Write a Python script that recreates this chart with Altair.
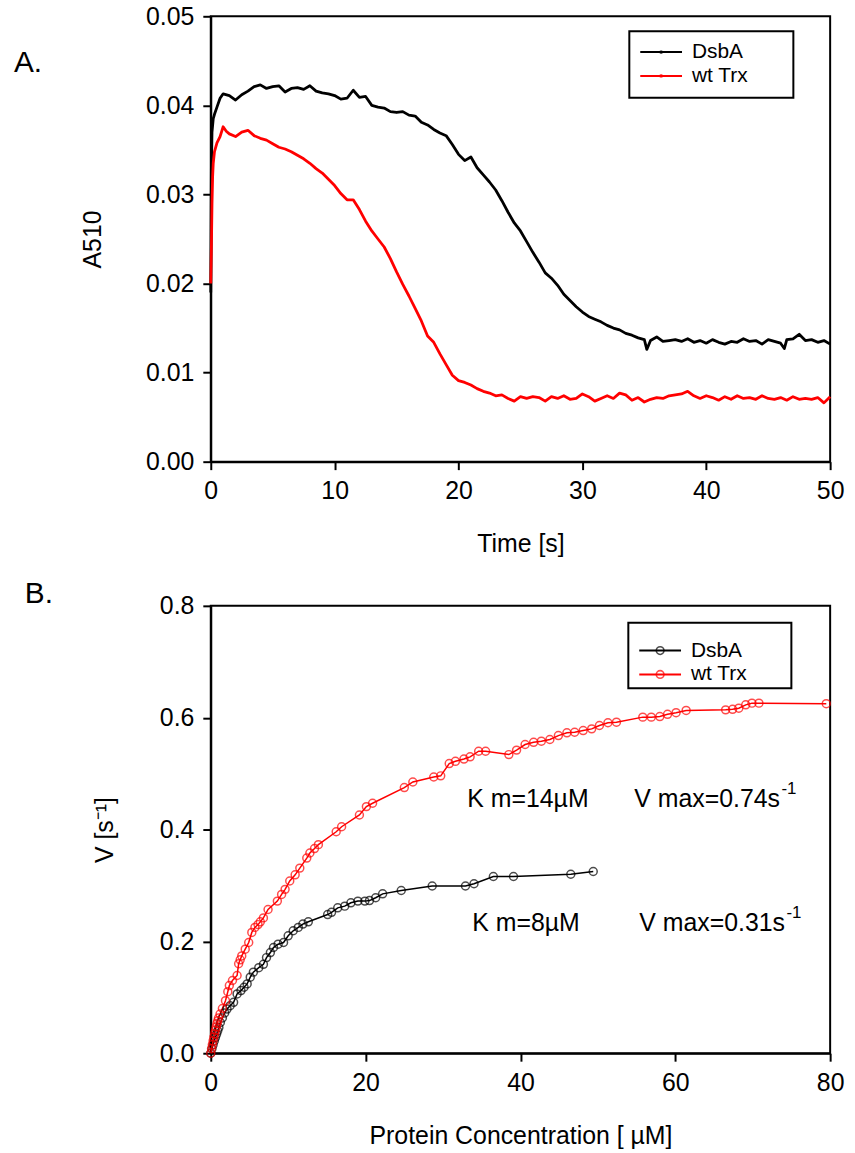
import altair as alt
import pandas as pd

FONT = "Liberation Sans"
FS = 25
LEG_FS = 21

# ---------------- Panel A data (A510 vs time) ----------------
time_dsba = [0, 0.05, 0.1, 0.2, 0.3, 0.5, 0.75, 1.0, 1.5, 2.0, 2.5, 3.0, 3.5, 4.0, 4.5, 5.0,
             5.5, 6.0, 6.5, 7.0, 7.5, 8.0, 8.5, 9.0, 9.5, 10.0, 10.5, 11.0, 11.5, 12.0, 12.5,
             13.0, 13.5, 14.0, 14.5, 15.0, 15.5, 16.0, 16.5, 17.0, 17.5, 18.0, 18.5, 19.0,
             19.5, 20.0, 20.5, 21.0, 21.5, 22.0, 22.5, 23.0, 23.5, 24.0, 24.5, 25.0, 25.5,
             26.0, 26.5, 27.0, 27.5, 28.0, 28.5, 29.0, 29.5, 30.0, 30.5, 31.0, 31.5, 32.0,
             32.5, 33.0, 33.5, 34.0, 34.5, 35.0, 35.2, 35.5, 36.0, 36.5, 37.0, 37.5, 38.0,
             38.5, 39.0, 39.5, 40.0, 40.5, 41.0, 41.5, 42.0, 42.5, 43.0, 43.5, 44.0, 44.5,
             45.0, 45.5, 46.0, 46.3, 46.5, 47.0, 47.5, 48.0, 48.5, 49.0, 49.5, 50.0]
a510_dsba = [0.0190, 0.0330, 0.0370, 0.0385, 0.0390, 0.0398, 0.0408, 0.0413, 0.0411, 0.0406,
             0.0412, 0.0416, 0.0421, 0.0423, 0.0419, 0.0421, 0.0422, 0.0415, 0.0419, 0.0420,
             0.0418, 0.0422, 0.0416, 0.0414, 0.0413, 0.0411, 0.0407, 0.0408, 0.0417, 0.0409,
             0.0410, 0.0400, 0.0398, 0.0397, 0.0393, 0.0392, 0.0393, 0.0389, 0.0388, 0.0381,
             0.0378, 0.0373, 0.0369, 0.0366, 0.0356, 0.0345, 0.0338, 0.0342, 0.0330, 0.0322,
             0.0314, 0.0305, 0.0293, 0.0280, 0.0268, 0.0259, 0.0247, 0.0235, 0.0224, 0.0212,
             0.0206, 0.0198, 0.0188, 0.0181, 0.0174, 0.0168, 0.0163, 0.0160, 0.0157, 0.0153,
             0.0150, 0.0148, 0.0144, 0.0142, 0.0139, 0.0137, 0.0126, 0.0136, 0.0140, 0.0135,
             0.0136, 0.0137, 0.0135, 0.0138, 0.0134, 0.0136, 0.0133, 0.0137, 0.0134, 0.0132,
             0.0135, 0.0134, 0.0138, 0.0135, 0.0136, 0.0132, 0.0137, 0.0135, 0.0133, 0.0127,
             0.0137, 0.0138, 0.0143, 0.0136, 0.0137, 0.0134, 0.0136, 0.0132]

time_trx = [0, 0.05, 0.1, 0.15, 0.2, 0.3, 0.5, 0.75, 1.0, 1.25, 1.5, 2.0, 2.5, 3.0, 3.5, 4.0,
            4.5, 5.0, 5.5, 6.0, 6.5, 7.0, 7.5, 8.0, 8.5, 9.0, 9.5, 10.0, 10.5, 11.0, 11.5,
            12.0, 12.5, 13.0, 13.5, 14.0, 14.5, 15.0, 15.5, 16.0, 16.5, 17.0, 17.5, 18.0,
            18.5, 19.0, 19.5, 20.0, 20.5, 21.0, 21.5, 22.0, 22.5, 23.0, 23.5, 24.0, 24.5,
            25.0, 25.5, 26.0, 26.5, 27.0, 27.5, 28.0, 28.5, 29.0, 29.5, 30.0, 30.5, 31.0,
            31.5, 32.0, 32.5, 33.0, 33.5, 34.0, 34.5, 35.0, 35.5, 36.0, 36.5, 37.0, 37.5,
            38.0, 38.5, 39.0, 39.5, 40.0, 40.5, 41.0, 41.5, 42.0, 42.5, 43.0, 43.5, 44.0,
            44.5, 45.0, 45.5, 46.0, 46.5, 47.0, 47.5, 48.0, 48.5, 49.0, 49.5, 50.0]
a510_trx = [0.0200, 0.0240, 0.0290, 0.0320, 0.0335, 0.0348, 0.0358, 0.0365, 0.0376, 0.0371,
            0.0368, 0.0365, 0.0370, 0.0372, 0.0366, 0.0363, 0.0361, 0.0357, 0.0353, 0.0351,
            0.0348, 0.0344, 0.0340, 0.0335, 0.0329, 0.0324, 0.0317, 0.0310, 0.0301, 0.0294,
            0.0294, 0.0283, 0.0270, 0.0259, 0.0250, 0.0241, 0.0228, 0.0213, 0.0199, 0.0186,
            0.0172, 0.0158, 0.0141, 0.0134, 0.0121, 0.0109, 0.0097, 0.0091, 0.0089, 0.0086,
            0.0082, 0.0079, 0.0077, 0.0074, 0.0075, 0.0071, 0.0068, 0.0073, 0.0071, 0.0073,
            0.0072, 0.0068, 0.0073, 0.0071, 0.0074, 0.0070, 0.0071, 0.0076, 0.0073, 0.0068,
            0.0071, 0.0074, 0.0071, 0.0077, 0.0075, 0.0069, 0.0072, 0.0067, 0.0070, 0.0072,
            0.0071, 0.0074, 0.0075, 0.0076, 0.0079, 0.0074, 0.0071, 0.0074, 0.0072, 0.0069,
            0.0073, 0.0070, 0.0074, 0.0071, 0.0072, 0.0070, 0.0074, 0.0071, 0.0070, 0.0072,
            0.0069, 0.0073, 0.0070, 0.0071, 0.0070, 0.0072, 0.0066, 0.0073]

# ---------------- Panel B data (V vs protein concentration) ----------------
conc_dsba = [0.0, 0.15, 0.3, 0.45, 0.6, 0.75, 0.9, 1.05, 1.24, 1.5, 1.8, 2.1, 2.5, 2.95, 3.4,
             3.9, 4.3, 4.7, 5.1, 5.5, 6.2, 6.8, 7.2, 7.7, 8.1, 8.7, 9.4, 10.0, 10.65, 11.3,
             11.9, 12.6, 15.1, 15.6, 16.4, 17.3, 18.1, 19.0, 19.9, 20.5, 21.3, 22.2, 24.6,
             28.6, 32.9, 34.0, 36.5, 39.1, 46.5, 49.4]
v_dsba = [0.000, 0.008, 0.015, 0.022, 0.028, 0.034, 0.040, 0.046, 0.055, 0.063, 0.072, 0.079,
          0.085, 0.091, 0.106, 0.112, 0.118, 0.124, 0.136, 0.145, 0.153, 0.159, 0.171, 0.180,
          0.189, 0.195, 0.198, 0.210, 0.219, 0.225, 0.231, 0.235, 0.248, 0.252, 0.260, 0.263,
          0.269, 0.272, 0.272, 0.273, 0.278, 0.285, 0.291, 0.299, 0.299, 0.303, 0.316, 0.316,
          0.320, 0.325]

conc_trx = [0.0, 0.1, 0.2, 0.3, 0.4, 0.5, 0.6, 0.7, 0.8, 0.9, 1.0, 1.2, 1.5, 1.9, 2.2, 2.4,
            2.8, 3.4, 3.6, 3.8, 4.0, 4.45, 4.9, 5.3, 5.7, 6.1, 6.4, 6.8, 7.4, 8.6, 9.15, 9.6,
            10.2, 10.9, 11.5, 12.4, 12.8, 13.4, 13.9, 16.2, 16.9, 19.2, 20.1, 20.9, 25.0,
            26.1, 28.8, 29.7, 30.8, 31.6, 32.7, 33.5, 34.6, 35.5, 38.5, 39.5, 40.6, 41.7,
            42.7, 43.8, 44.9, 46.0, 47.0, 48.1, 49.2, 50.2, 51.3, 52.4, 55.8, 56.9, 58.0,
            59.0, 60.1, 61.4, 66.5, 67.4, 68.2, 69.1, 69.9, 70.8, 79.5]
v_trx = [0.000, 0.008, 0.015, 0.022, 0.029, 0.035, 0.041, 0.047, 0.053, 0.058, 0.063, 0.070,
         0.080, 0.094, 0.110, 0.121, 0.130, 0.139, 0.160, 0.167, 0.174, 0.186, 0.198, 0.216,
         0.225, 0.230, 0.235, 0.242, 0.257, 0.272, 0.284, 0.293, 0.308, 0.319, 0.331, 0.349,
         0.358, 0.366, 0.373, 0.396, 0.405, 0.426, 0.441, 0.447, 0.475, 0.485, 0.494, 0.496,
         0.518, 0.522, 0.526, 0.530, 0.540, 0.540, 0.534, 0.542, 0.552, 0.556, 0.558, 0.561,
         0.568, 0.573, 0.574, 0.577, 0.580, 0.586, 0.591, 0.592, 0.601, 0.601, 0.602, 0.606,
         0.609, 0.613, 0.614, 0.615, 0.617, 0.623, 0.626, 0.626, 0.625]

series = ["DsbA", "wt Trx"]
colors = ["#000000", "#ff0000"]

# ---------------- frames ----------------
dfA = pd.concat([
    pd.DataFrame({"t": time_dsba, "A": a510_dsba, "s": series[0]}),
    pd.DataFrame({"t": time_trx, "A": a510_trx, "s": series[1]}),
], ignore_index=True)
dfB = pd.concat([
    pd.DataFrame({"c": conc_dsba, "v": v_dsba, "s": series[0]}),
    pd.DataFrame({"c": conc_trx, "v": v_trx, "s": series[1]}),
], ignore_index=True)
one = pd.DataFrame({"k": [0]})

color = alt.Color("s:N", scale=alt.Scale(domain=series, range=colors), legend=None)


def text_at(txt, x, y, size=FS, align="left"):
    return alt.Chart(one).mark_text(text=txt, align=align, baseline="middle", font=FONT,
                                    fontSize=size, color="black").encode(
        x=alt.value(x), y=alt.value(y))


def legend_block(x1, x2, y1, y2, rows, marker):
    parts = [alt.Chart(one).mark_rect(fill="white", stroke="black", strokeWidth=2).encode(
        x=alt.value(x1), x2=alt.value(x2), y=alt.value(y1), y2=alt.value(y2))]
    for (label, col, yy) in rows:
        parts.append(alt.Chart(one).mark_rule(color=col, strokeWidth=2).encode(
            x=alt.value(x1 + 11), x2=alt.value(x1 + 53), y=alt.value(yy)))
        if marker == "dot":
            parts.append(alt.Chart(one).mark_point(filled=True, color=col, size=14, shape="circle").encode(
                x=alt.value(x1 + 32), y=alt.value(yy)))
        else:
            parts.append(alt.Chart(one).mark_point(filled=False, color=col, size=60, strokeWidth=1.6,
                                                   shape="circle").encode(
                x=alt.value(x1 + 32), y=alt.value(yy)))
        parts.append(text_at(label, x1 + 63, yy, size=LEG_FS))
    return parts


# ---------------- Panel A ----------------
xA = alt.X("t:Q", scale=alt.Scale(domain=[0, 50], nice=False),
           axis=alt.Axis(values=[0, 10, 20, 30, 40, 50], title="Time [s]", titlePadding=28,
                         labelPadding=9))
yA = alt.Y("A:Q", scale=alt.Scale(domain=[0, 0.05], nice=False),
           axis=alt.Axis(values=[0, 0.01, 0.02, 0.03, 0.04, 0.05], format=".2f", title="A510",
                         titlePadding=40, labelPadding=9))

linesA = alt.Chart(dfA).mark_line(strokeWidth=2.8, strokeJoin="round").encode(
    x=xA, y=yA, color=color, order="t:Q")

panelA = alt.layer(
    linesA,
    *legend_block(421, 586, 15, 82, [(series[0], colors[0], 36), (series[1], colors[1], 60)], "dot"),
    text_at("A.", -198, 47, size=30),
).properties(width=623, height=448)

# ---------------- Panel B ----------------
xB = alt.X("c:Q", scale=alt.Scale(domain=[0, 80], nice=False),
           axis=alt.Axis(values=[0, 20, 40, 60, 80], title="Protein Concentration [ µM]",
                         titlePadding=29, labelPadding=9))
yB = alt.Y("v:Q", scale=alt.Scale(domain=[0, 0.8], nice=False),
           axis=alt.Axis(values=[0, 0.2, 0.4, 0.6, 0.8], format=".1f", title="V [s⁻¹]",
                         titlePadding=42, labelPadding=9))

baseB = alt.Chart(dfB).encode(x=xB, y=yB, color=color)
linesB = baseB.mark_line(strokeWidth=1.5).encode(order="c:Q")
ptsB = baseB.mark_point(filled=False, size=64, strokeWidth=1.5, shape="circle")

panelB = alt.layer(
    linesB, ptsB,
    *legend_block(420, 584, 17, 83, [(series[0], colors[0], 45), (series[1], colors[1], 69)], "circle"),
    text_at("K m=14µM", 258, 194),
    text_at("V max=0.74s", 426, 194),
    text_at("-1", 574, 184, size=17),
    text_at("K m=8µM", 263, 319),
    text_at("V max=0.31s", 431, 319),
    text_at("-1", 579, 309, size=17),
    text_at("B.", -187, -12, size=30),
).properties(width=623, height=450)

chart = alt.vconcat(panelA, panelB, spacing=21).properties(
    padding={"left": 13, "top": 0, "right": 10, "bottom": 5}
).configure_axis(
    domainColor="black", domainWidth=2, tickColor="black", tickWidth=2, tickSize=8,
    labelFont=FONT, labelFontSize=FS, labelColor="black", titleFont=FONT, titleFontSize=FS,
    titleFontWeight="normal", titleColor="black", grid=False, labelFlush=False,
    labelOverlap=False, labelBound=False
).configure_view(stroke="black", strokeWidth=2)

chart.save("out.html", embed_options={"renderer": "svg", "actions": False})
